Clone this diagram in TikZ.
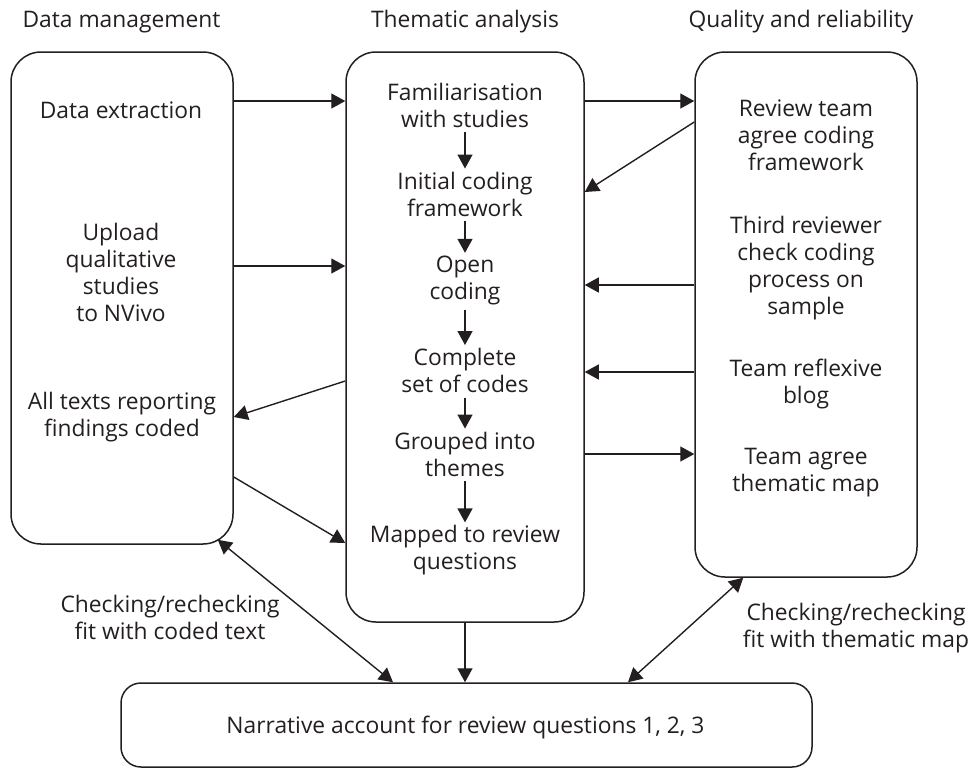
\documentclass[tikz,border=0pt]{standalone}
\usepackage{fontspec}
\setmainfont{Open Sans}
\usetikzlibrary{arrows.meta,calc}
\definecolor{ink}{HTML}{231F20}
\begin{document}
\begin{tikzpicture}[x=1pt,y=-1pt,
  box/.style={draw=ink, line width=1.5pt, rounded corners=30pt, inner sep=0pt},
  txt/.style={align=center, text=ink, font=\fontsize{22.8}{27}\selectfont, inner sep=0pt},
  arr/.style={draw=ink, line width=1.4pt, -{Triangle[length=14pt,width=15pt]}},
  darr/.style={draw=ink, line width=1.4pt, {Triangle[length=14pt,width=15pt]}-{Triangle[length=14pt,width=15pt]}},
  step arr/.style={arr, shorten <=5pt, shorten >=3pt}]
\useasboundingbox (0,0) rectangle (973,769);
% boxes
\node[box, minimum width=222pt, minimum height=492pt] (L) at (122,298) {};
\node[box, minimum width=238pt, minimum height=570pt] (M) at (465,337) {};
\node[box, minimum width=222pt, minimum height=525pt] (R) at (806,314.5) {};
\node[box, rounded corners=20pt, minimum width=691pt, minimum height=84pt] (B) at (466.5,725) {};
% headers
\node[txt] (h1) at (121.5,22) {Data management};
\node[txt] (h2) at (465,22) {Thematic analysis};
\node[txt] (h3) at (801,22) {Quality and reliability};
% left texts
\node[txt] (DE) at (121,110) {Data extraction};
\node[txt] (UP) at (121,272) {Upload\\qualitative\\studies\\to NVivo};
\node[txt] (AT) at (122,417) {All texts reporting\\findings coded};
% middle texts
\node[txt] (F) at (465,105) {Familiarisation\\with studies};
\node[txt] (I) at (465,194) {Initial coding\\framework};
\node[txt] (O) at (465,280.5) {Open\\coding};
\node[txt] (C) at (465,370.5) {Complete\\set of codes};
\node[txt] (G) at (465,454) {Grouped into\\themes};
\node[txt] (MQ) at (465,550.5) {Mapped to review\\questions};
% right texts
\node[txt] (RT) at (806,135) {Review team\\agree coding\\framework};
\node[txt] (TR) at (806,268) {Third reviewer\\check coding\\process on\\sample};
\node[txt] (RB) at (806,384) {Team reflexive\\blog};
\node[txt] (TA) at (806,472.5) {Team agree\\thematic map};
% bottom text
\node[txt] (NA) at (465.5,727) {Narrative account for review questions 1, 2, 3};
% labels
\node[txt] (c1) at (170,617) {Checking/rechecking\\fit with coded text};
\node[txt] (c2) at (856,628) {Checking/rechecking\\fit with thematic map};
% y levels
\coordinate (y101) at (0,101);
\coordinate (y266) at (0,266);
\coordinate (y381) at (0,381);
\coordinate (y417) at (0,417);
\coordinate (y477) at (0,477);
\coordinate (y543) at (0,543);
\coordinate (y122) at (0,122);
\coordinate (y192) at (0,192);
\coordinate (y285) at (0,285);
\coordinate (y372) at (0,372);
\coordinate (y454) at (0,454);
% step arrows
\draw[step arr] (F) -- (I);
\draw[step arr] (I) -- (O);
\draw[step arr] (O) -- (C);
\draw[step arr] (C) -- (G);
\draw[step arr] (G) -- (MQ);
% box connectors
\draw[arr] (L.east |- y101) -- (M.west |- y101);
\draw[arr] (L.east |- y266) -- (M.west |- y266);
\draw[arr] (M.west |- y381) -- (L.east |- y417);
\draw[arr] (L.east |- y477) -- (M.west |- y543);
\draw[arr] (M.east |- y101) -- (R.west |- y101);
\draw[arr] (R.west |- y122) -- (M.east |- y192);
\draw[arr] (R.west |- y285) -- (M.east |- y285);
\draw[arr] (R.west |- y372) -- (M.east |- y372);
\draw[arr] (M.east |- y454) -- (R.west |- y454);
\draw[arr] (M.south) -- (M.south |- B.north);
\draw[darr] ($(L.south east)+(-16,-5)$) -- ($(B.north)+(-73.5,0)$);
\draw[darr] ($(R.south west)+(49,0)$) -- ($(B.north)+(161.5,0)$);
\end{tikzpicture}
\end{document}
